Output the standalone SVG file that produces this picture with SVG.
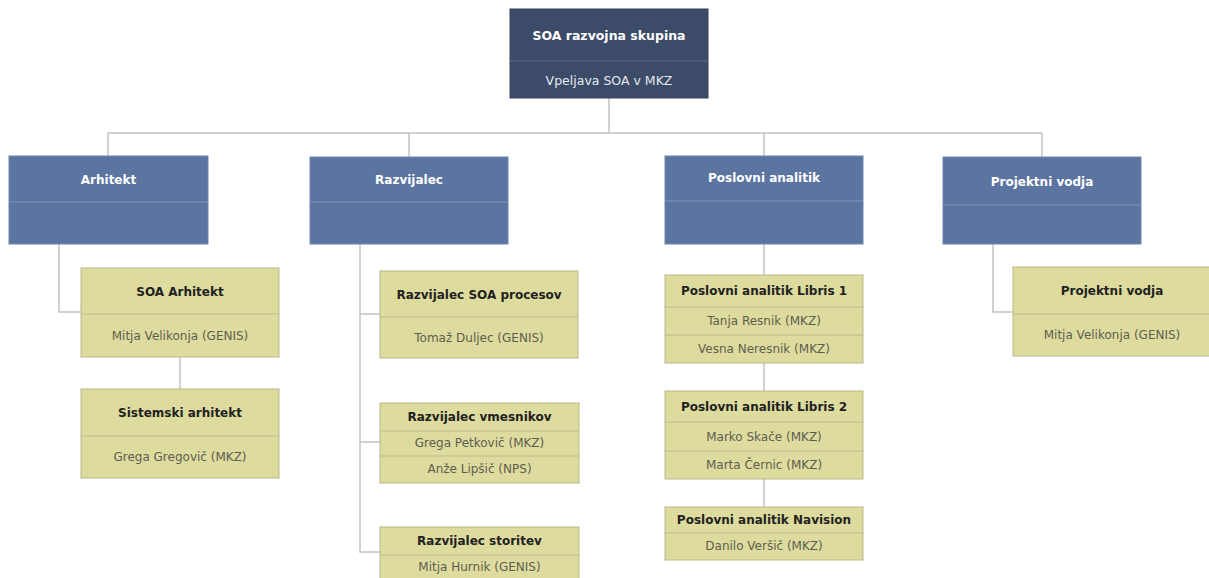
<svg xmlns="http://www.w3.org/2000/svg" width="1209" height="578" viewBox="0 0 1209 578">
  <style>
    text { font-family: "DejaVu Sans", Verdana, sans-serif; text-anchor: middle; dominant-baseline: central; font-size: 12px; }
    .top { fill: #3c4b68; stroke: #34425c; stroke-width: 1; }
    .role { fill: #5b74a0; stroke: #6e86b0; stroke-width: 1; }
    .person { fill: #dedb9e; stroke: #bab787; stroke-width: 1; }
    .div-top { stroke: #5d6d8c; stroke-width: 1; }
    .div-role { stroke: #7d93bb; stroke-width: 1; }
    .div-person { stroke: #bdb98a; stroke-width: 1; }
    .root-text { font-size: 12.5px; }
    .h-light { fill: #ffffff; font-weight: bold; }
    .s-light { fill: #e4e8f0; }
    .h-dark { fill: #222222; font-weight: bold; }
    .s-dark { fill: #5e5e50; }
    .link { fill: none; stroke: #c4c4c4; stroke-width: 1.5; }
  </style>

  <!-- connectors -->
  <g id="connectors">
    <path class="link" d="M609,98 V133 M108,133 H1042 M108,133 V156 M409,133 V157 M764,133 V156 M1042,133 V157"/>
    <path class="link" d="M59,244 V312 H81 M180,357 V389"/>
    <path class="link" d="M360,244 V552 H380 M360,314 H380 M360,442 H380"/>
    <path class="link" d="M764,244 V275 M764,363 V391 M764,479 V507"/>
    <path class="link" d="M993,244 V312 H1013"/>
  </g>

  <!-- root -->
  <g id="soa-skupina">
    <rect class="top" x="510" y="9" width="198" height="89"/>
    <line class="div-top" x1="510" y1="61" x2="708" y2="61"/>
    <text class="h-light root-text" x="609" y="35">SOA razvojna skupina</text>
    <text class="s-light root-text" x="609" y="80">Vpeljava SOA v MKZ</text>
  </g>

  <!-- roles -->
  <g id="arhitekt">
    <rect class="role" x="9" y="156" width="199" height="88"/>
    <line class="div-role" x1="9" y1="202" x2="208" y2="202"/>
    <text class="h-light" x="108.5" y="180">Arhitekt</text>
  </g>
  <g id="razvijalec">
    <rect class="role" x="310" y="157" width="198" height="87"/>
    <line class="div-role" x1="310" y1="202" x2="508" y2="202"/>
    <text class="h-light" x="409" y="180">Razvijalec</text>
  </g>
  <g id="poslovni-analitik">
    <rect class="role" x="665" y="156" width="198" height="88"/>
    <line class="div-role" x1="665" y1="201" x2="863" y2="201"/>
    <text class="h-light" x="764" y="178">Poslovni analitik</text>
  </g>
  <g id="projektni-vodja">
    <rect class="role" x="943" y="157" width="198" height="87"/>
    <line class="div-role" x1="943" y1="205" x2="1141" y2="205"/>
    <text class="h-light" x="1042" y="182">Projektni vodja</text>
  </g>

  <!-- Arhitekt branch -->
  <g id="soa-arhitekt">
    <rect class="person" x="81" y="268" width="198" height="89"/>
    <line class="div-person" x1="81" y1="314" x2="279" y2="314"/>
    <text class="h-dark" x="180" y="292">SOA Arhitekt</text>
    <text class="s-dark" x="180" y="336">Mitja Velikonja (GENIS)</text>
  </g>
  <g id="sistemski-arhitekt">
    <rect class="person" x="81" y="389" width="198" height="89"/>
    <line class="div-person" x1="81" y1="436" x2="279" y2="436"/>
    <text class="h-dark" x="180" y="413">Sistemski arhitekt</text>
    <text class="s-dark" x="180" y="457">Grega Gregovič (MKZ)</text>
  </g>

  <!-- Razvijalec branch -->
  <g id="razvijalec-soa-procesov">
    <rect class="person" x="380" y="271" width="198" height="87"/>
    <line class="div-person" x1="380" y1="317" x2="578" y2="317"/>
    <text class="h-dark" x="479" y="295">Razvijalec SOA procesov</text>
    <text class="s-dark" x="479" y="338">Tomaž Duljec (GENIS)</text>
  </g>
  <g id="razvijalec-vmesnikov">
    <rect class="person" x="380" y="403" width="199" height="80"/>
    <line class="div-person" x1="380" y1="431" x2="579" y2="431"/>
    <line class="div-person" x1="380" y1="456" x2="579" y2="456"/>
    <text class="h-dark" x="479.5" y="417">Razvijalec vmesnikov</text>
    <text class="s-dark" x="479.5" y="443">Grega Petkovič (MKZ)</text>
    <text class="s-dark" x="479.5" y="469">Anže Lipšič (NPS)</text>
  </g>
  <g id="razvijalec-storitev">
    <rect class="person" x="380" y="527" width="199" height="60"/>
    <line class="div-person" x1="380" y1="555" x2="579" y2="555"/>
    <text class="h-dark" x="479.5" y="541">Razvijalec storitev</text>
    <text class="s-dark" x="479.5" y="567">Mitja Hurnik (GENIS)</text>
  </g>

  <!-- Poslovni analitik branch -->
  <g id="poslovni-analitik-libris-1">
    <rect class="person" x="665" y="275" width="198" height="88"/>
    <line class="div-person" x1="665" y1="307" x2="863" y2="307"/>
    <line class="div-person" x1="665" y1="335" x2="863" y2="335"/>
    <text class="h-dark" x="764" y="291">Poslovni analitik Libris 1</text>
    <text class="s-dark" x="764" y="321">Tanja Resnik (MKZ)</text>
    <text class="s-dark" x="764" y="349">Vesna Neresnik (MKZ)</text>
  </g>
  <g id="poslovni-analitik-libris-2">
    <rect class="person" x="665" y="391" width="198" height="88"/>
    <line class="div-person" x1="665" y1="422" x2="863" y2="422"/>
    <line class="div-person" x1="665" y1="451" x2="863" y2="451"/>
    <text class="h-dark" x="764" y="407">Poslovni analitik Libris 2</text>
    <text class="s-dark" x="764" y="437">Marko Skače (MKZ)</text>
    <text class="s-dark" x="764" y="465">Marta Černic (MKZ)</text>
  </g>
  <g id="poslovni-analitik-navision">
    <rect class="person" x="665" y="507" width="198" height="53"/>
    <line class="div-person" x1="665" y1="533" x2="863" y2="533"/>
    <text class="h-dark" x="764" y="520">Poslovni analitik Navision</text>
    <text class="s-dark" x="764" y="546">Danilo Veršič (MKZ)</text>
  </g>

  <!-- Projektni vodja branch -->
  <g id="projektni-vodja-oseba">
    <rect class="person" x="1013" y="267" width="198" height="89"/>
    <line class="div-person" x1="1013" y1="314" x2="1211" y2="314"/>
    <text class="h-dark" x="1112" y="291">Projektni vodja</text>
    <text class="s-dark" x="1112" y="335">Mitja Velikonja (GENIS)</text>
  </g>
</svg>
